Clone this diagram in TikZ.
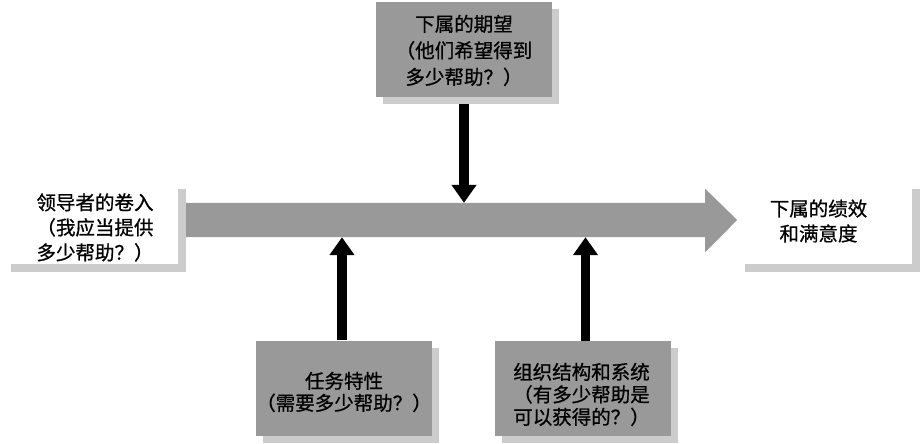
\documentclass[tikz,border=0pt]{standalone}
\usepackage{fontspec}
\newfontfamily\cjk[FakeBold=0.8]{Noto Sans CJK SC}
\usetikzlibrary{arrows.meta,shadows,calc}
\definecolor{boxgrey}{RGB}{153,153,153}
\definecolor{shgrey}{RGB}{204,204,204}
\begin{document}
\begin{tikzpicture}[x=1pt,y=-1pt,
  txt/.style={font=\cjk\fontsize{19.5}{25}\selectfont, align=center, inner sep=0pt},
  gbox/.style={minimum width=176pt, minimum height=95pt, fill=boxgrey, inner sep=0pt,
    drop shadow={shadow xshift=7pt, shadow yshift=-7pt, fill=shgrey, opacity=1}},
  wbox/.style={fill=white, minimum width=175pt, minimum height=83pt, inner sep=0pt,
    drop shadow={shadow xshift=8pt, shadow yshift=-8pt, fill=shgrey, opacity=1}},
  link/.style={line width=9.5pt, -{Triangle[width=24pt,length=18pt]}, black}
]
\useasboundingbox (0,0) rectangle (922,444);
\fill[white] (0,0) rectangle (922,444);

% main arrow
\node[inner sep=0pt, minimum width=519pt, minimum height=34pt] (main) at (445.5,220) {};
\fill[boxgrey] (main.north west) -- (main.north east) -- ([yshift=14pt]main.north east)
  -- ($(main.east)+(32,0)$) -- ([yshift=-15pt]main.south east) -- (main.south east)
  -- (main.south west) -- cycle;

% boxes
\node[wbox] (lead) at (90,222.5) {};
\node[wbox] (perf) at (824.5,222) {};
\node[gbox] (expect) at (464,49.5) {};
\node[gbox] (task) at (344,388) {};
\node[gbox] (org) at (582.5,388.5) {};

% texts
\node[txt] (leadt) at ([xshift=5pt,yshift=-5pt]lead.center) {领导者的卷入\\（我应当提供\\多少帮助？）};
\node[txt] (perft) at ([xshift=-6pt,yshift=1pt]perf.center) {下属的绩效\\和满意度};
\node[txt, font=\cjk\fontsize{19.5}{26.5}\selectfont] (expectt) at ([yshift=-1pt]expect.center) {下属的期望\\（他们希望得到\\多少帮助？）};
\node[txt, font=\cjk\fontsize{19.5}{22}\selectfont] (taskt) at ([yshift=-4pt]task.center) {任务特性\\（需要多少帮助？）};
\node[txt, font=\cjk\fontsize{19.5}{22.5}\selectfont] (orgt) at ([xshift=-1pt,yshift=-6pt]org.center) {组织结构和系统\\（有多少帮助是\\可以获得的？）};

% connectors
\draw[link] ([yshift=-7pt]expect.south) -- (expect.south |- main.north);
\draw[link] ([xshift=-2pt]task.north) -- ([xshift=-2pt]task.north |- main.south);
\draw[link] ([xshift=3pt]org.north) -- ([xshift=3pt]org.north |- main.south);
\end{tikzpicture}
\end{document}
